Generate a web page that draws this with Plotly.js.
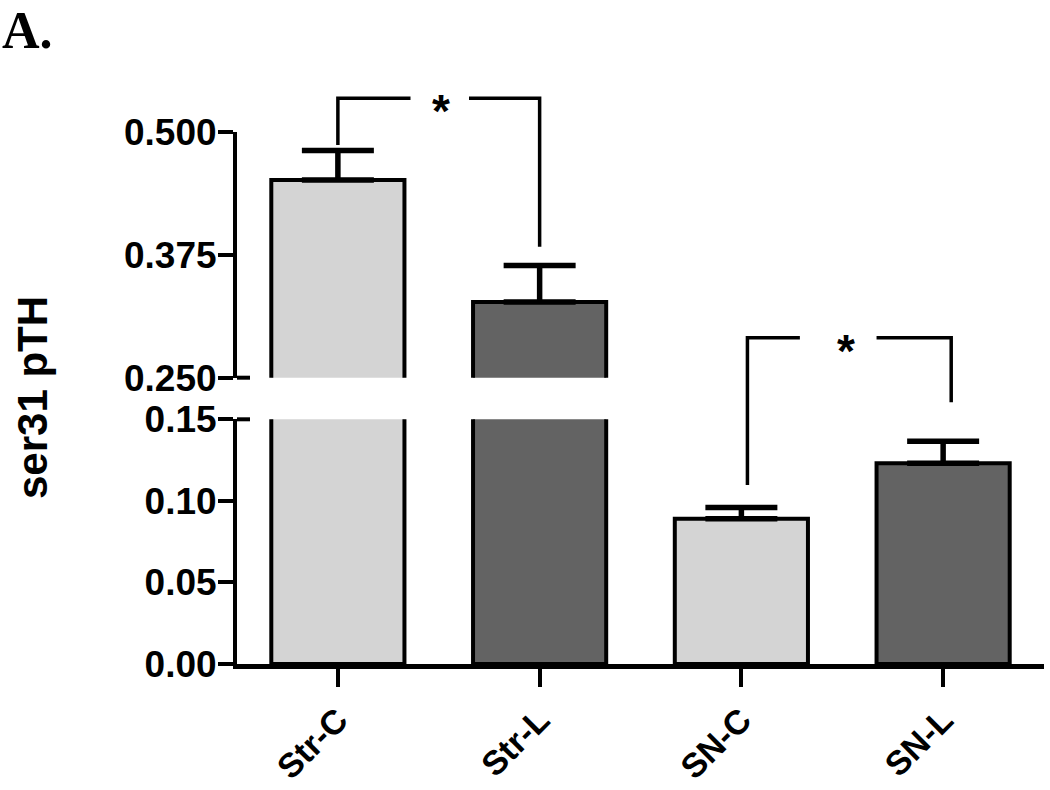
<!DOCTYPE html>
<html><head><meta charset="utf-8">
<script src="https://cdn.plot.ly/plotly-3.0.1.min.js"></script>
<style>html,body{margin:0;padding:0;background:#fff}</style>
</head><body><div id="chart" style="width:1050px;height:790px"></div>
<script>
// ---- data ----
const categories = ['Str-C', 'Str-L', 'SN-C', 'SN-L'];
const means = [0.451, 0.327, 0.089, 0.123];
const sems = [0.030, 0.037, 0.007, 0.0135];
const lowerTicks = [0, 0.05, 0.10, 0.15];
const upperTicks = [0.25, 0.375, 0.5];
const lowerRange = [0, 0.15];
const upperRange = [0.25, 0.5];
// significance brackets (data units)
const sig1X = [0, 1];
const sig1Top = 0.534;
const sig1Feet = [0.4865, 0.383];
const sig1Gap = [0.36, 0.65];
const sig1Star = 0.51;
const sig2X = [2.03, 3.04];
const sig2Top = 0.200;
const sig2Feet = [0.1097, 0.1604];
const sig2Gap = [2.29, 2.67];
const sig2Star = 2.52;

// ---- styles ----
const colC = '#d4d4d4', colL = '#636363';
const barColors = categories.map(c => c.endsWith('-C') ? colC : colL);
const FONT = 'Liberation Sans, Arial, sans-serif';
const tickFont = {family: FONT, size: 37, color: '#000', weight: 700};

const W = 1050, H = 790, M = {l: 237, r: 6, t: 80, b: 126};
const plotH = H - M.t - M.b;
const plotW = W - M.l - M.r;
const bottomPx = H - M.b;
const lowerTopPx = 419.3, upperBotPx = 377.7, upperTopPx = 131.7;
const yDom = [0, (bottomPx - lowerTopPx) / plotH];
const y2Dom = [(bottomPx - upperBotPx) / plotH, (bottomPx - upperTopPx) / plotH];
const y3Range = [lowerRange[0], lowerRange[1] / yDom[1]];
const y4Dom = [y2Dom[0], 1];
const y4Range = [upperRange[0], upperRange[0] + (upperRange[1] - upperRange[0]) * (y4Dom[1] - y4Dom[0]) / (y2Dom[1] - y2Dom[0])];

const xIdx = categories.map((c, i) => i);
const zeros = means.map(() => 0);

function barTrace(yaxis) {
  return {
    type: 'bar', x: xIdx, y: means, yaxis: yaxis, width: 0.66,
    marker: {color: barColors, line: {color: '#000', width: 4}},
    error_y: {type: 'data', array: sems, arrayminus: zeros, symmetric: false,
              color: '#000', thickness: 5.5, width: 36},
    hoverinfo: 'none', showlegend: false
  };
}
function bracket(xs, top, feet, gap, yaxis) {
  return {
    type: 'scatter', mode: 'lines', yaxis: yaxis, showlegend: false, hoverinfo: 'none',
    x: [xs[0], xs[0], gap[0], null, gap[1], xs[1], xs[1]],
    y: [feet[0], top, top, null, top, top, feet[1]],
    line: {color: '#000', width: 3.5}
  };
}

const data = [
  barTrace('y'), barTrace('y2'),
  bracket(sig1X, sig1Top, sig1Feet, sig1Gap, 'y4'),
  bracket(sig2X, sig2Top, sig2Feet, sig2Gap, 'y3')
];

const axCommon = {
  showgrid: false, zeroline: false, showline: true, linecolor: '#000', linewidth: 4,
  ticks: 'outside', ticklen: 15, tickwidth: 4, tickcolor: '#000', tickfont: tickFont,
  fixedrange: true
};

const layout = {
  width: W, height: H, margin: M,
  paper_bgcolor: '#fff', plot_bgcolor: 'rgba(0,0,0,0)',
  showlegend: false,
  xaxis: Object.assign({}, axCommon, {
    range: [-0.5, 3.5], tickvals: xIdx, ticktext: categories, tickangle: -45,
    ticklen: 18, anchor: 'y', linewidth: 4.5,
    tickfont: Object.assign({}, tickFont, {size: 34})
  }),
  yaxis: Object.assign({}, axCommon, {
    domain: yDom, range: lowerRange, tickvals: lowerTicks, tickformat: '.2f', anchor: 'x',
    ticklabelstandoff: -6
  }),
  yaxis2: Object.assign({}, axCommon, {
    domain: y2Dom, range: upperRange, tickvals: upperTicks, tickformat: '.3f', anchor: 'x',
    ticklabelstandoff: -6
  }),
  yaxis3: {domain: [0, 1], range: y3Range, visible: false, anchor: 'x', fixedrange: true},
  yaxis4: {domain: y4Dom, range: y4Range, visible: false, anchor: 'x', fixedrange: true},
  shapes: [
    {type: 'line', xref: 'paper', yref: 'paper', x0: 0, x1: 13 / plotW, y0: y2Dom[0], y1: y2Dom[0],
     line: {color: '#000', width: 4}},
    {type: 'line', xref: 'paper', yref: 'paper', x0: 0, x1: 13 / plotW, y0: yDom[1], y1: yDom[1],
     line: {color: '#000', width: 4}}
  ],
  annotations: [
    {text: '*', x: sig1Star, y: sig1Top, xref: 'x', yref: 'y4', showarrow: false,
     yanchor: 'middle', yshift: -13, font: {family: FONT, size: 46, color: '#000', weight: 700}},
    {text: '*', x: sig2Star, y: sig2Top, xref: 'x', yref: 'y3', showarrow: false,
     yanchor: 'middle', yshift: -13, font: {family: FONT, size: 46, color: '#000', weight: 700}},
    {text: 'ser31 pTH', textangle: -90, xref: 'paper', yref: 'paper',
     x: (32 - M.l) / plotW, y: (bottomPx - 397) / plotH, xanchor: 'center', yanchor: 'middle',
     showarrow: false, font: {family: FONT, size: 42, color: '#000', weight: 700}},
    {text: 'A.', xref: 'paper', yref: 'paper', x: (0 - M.l) / plotW, y: bottomPx / plotH,
     xanchor: 'left', yanchor: 'top', showarrow: false,
     font: {family: 'Liberation Serif, Times New Roman, serif', size: 52, color: '#000', weight: 700}}
  ]
};

Plotly.newPlot('chart', data, layout, {displayModeBar: false, staticPlot: true});
</script>
</body></html>
